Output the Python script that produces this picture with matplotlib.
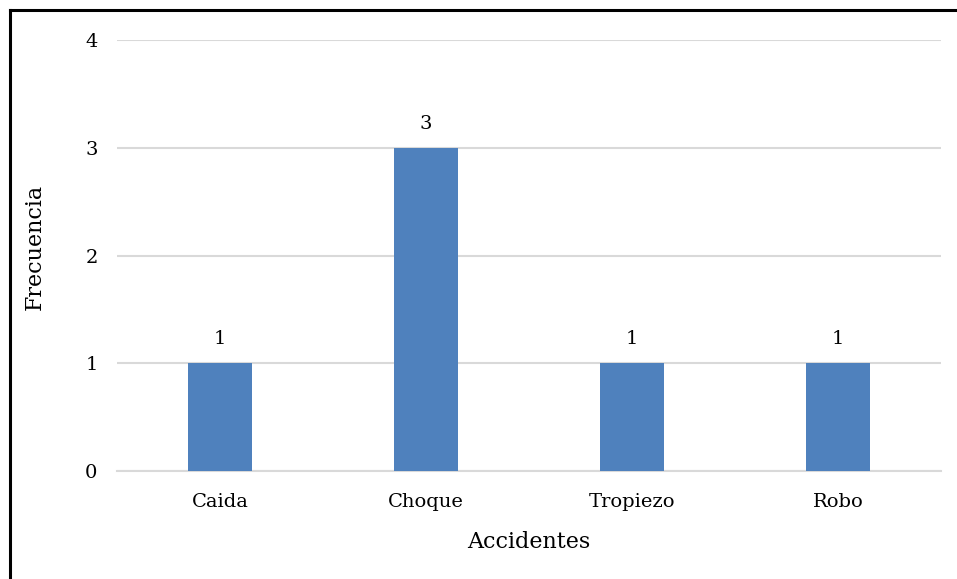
import matplotlib
matplotlib.use("Agg")
import matplotlib.pyplot as plt
from matplotlib.lines import Line2D

accidentes = ['Caida', 'Choque', 'Tropiezo', 'Robo']
frecuencia = [1, 3, 1, 1]
y_ticks = [0, 1, 2, 3, 4]

plt.rcParams['font.family'] = ['DejaVu Serif']

fig = plt.figure(figsize=(9.57, 5.79), dpi=100)
ax = fig.add_axes([0.1223, 0.1865, 0.8610, 0.7444])

x = range(len(accidentes))
bars = ax.bar(x, frecuencia, width=0.31, color='#4F81BD', zorder=3)
for b, v in zip(bars, frecuencia):
    ax.text(b.get_x() + b.get_width() / 2, v + 0.14, str(v),
            ha='center', va='bottom', fontsize=14)

ax.set_xlim(-0.5, len(accidentes) - 0.5)
ax.set_ylim(0, 4)
ax.set_yticks(y_ticks)
ax.set_xticks(list(x))
ax.set_xticklabels(accidentes)
ax.tick_params(axis='both', length=0, labelsize=14)
ax.tick_params(axis='y', pad=14)
ax.tick_params(axis='x', pad=16)
ax.grid(axis='y', color='#D9D9D9', linewidth=1.5, zorder=0)
ax.set_axisbelow(True)
for s in ['top', 'right', 'left']:
    ax.spines[s].set_visible(False)
ax.spines['bottom'].set_color('#D9D9D9')
ax.spines['bottom'].set_linewidth(1.5)

ax.set_xlabel('Accidentes', fontsize=16, labelpad=14)
ax.set_ylabel('Frecuencia', fontsize=16)
ax.yaxis.set_label_coords(-0.087, 0.52)

# marco superior e izquierdo
fig.add_artist(Line2D([10 / 957, 10 / 957], [0, 1 - 10 / 579], color='black', lw=2.2))
fig.add_artist(Line2D([10 / 957, 1], [1 - 10 / 579, 1 - 10 / 579], color='black', lw=2.2))

fig.savefig('out.png', dpi=100)
